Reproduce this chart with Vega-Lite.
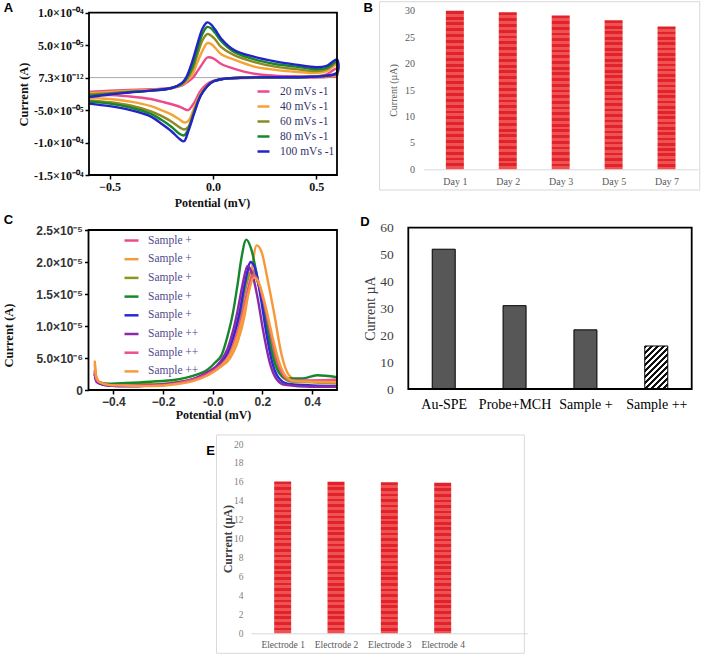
{
"$schema":"https://vega.github.io/schema/vega-lite/v6.json",
"width":708,"height":656,"autosize":{"type":"none"},"padding":0,"background":"white",
"config":{"view":{"stroke":null},"axis":{"grid":false,"labelFlush":false,"labelOverlap":false},"font":"Liberation Serif"},
"datasets":{
"one":[{}],
"cv":[
{"c":"20","k":0,"e":-0.6,"i":-22},{"c":"20","k":1,"e":-0.5,"i":-20},{"c":"20","k":2,"e":-0.4,"i":-19},{"c":"20","k":3,"e":-0.3,"i":-18},{"c":"20","k":4,"e":-0.2,"i":-16},{"c":"20","k":5,"e":-0.15,"i":-12},{"c":"20","k":6,"e":-0.13,"i":-8},{"c":"20","k":7,"e":-0.1,"i":-1},{"c":"20","k":8,"e":-0.075,"i":10},{"c":"20","k":9,"e":-0.05,"i":22},{"c":"20","k":10,"e":-0.028,"i":31},{"c":"20","k":11,"e":-0.01,"i":31},{"c":"20","k":12,"e":0.01,"i":28},{"c":"20","k":13,"e":0.04,"i":21},{"c":"20","k":14,"e":0.1,"i":14},{"c":"20","k":15,"e":0.2,"i":6},{"c":"20","k":16,"e":0.3,"i":3},{"c":"20","k":17,"e":0.4,"i":2},{"c":"20","k":18,"e":0.5,"i":2},{"c":"20","k":19,"e":0.55,"i":5},{"c":"20","k":20,"e":0.6,"i":14},
{"c":"20","k":21,"e":0.6,"i":3},{"c":"20","k":22,"e":0.55,"i":1},{"c":"20","k":23,"e":0.45,"i":0},{"c":"20","k":24,"e":0.3,"i":0},{"c":"20","k":25,"e":0.15,"i":-0.5},{"c":"20","k":26,"e":0.05,"i":-2},{"c":"20","k":27,"e":0,"i":-5},{"c":"20","k":28,"e":-0.03,"i":-10},{"c":"20","k":29,"e":-0.06,"i":-20},{"c":"20","k":30,"e":-0.09,"i":-38},{"c":"20","k":31,"e":-0.12,"i":-50},{"c":"20","k":32,"e":-0.14,"i":-48},{"c":"20","k":33,"e":-0.16,"i":-45},{"c":"20","k":34,"e":-0.2,"i":-41},{"c":"20","k":35,"e":-0.25,"i":-37},{"c":"20","k":36,"e":-0.3,"i":-33},{"c":"20","k":37,"e":-0.4,"i":-29},{"c":"20","k":38,"e":-0.5,"i":-27},{"c":"20","k":39,"e":-0.6,"i":-26},
{"c":"40","k":0,"e":-0.6,"i":-24},{"c":"40","k":1,"e":-0.5,"i":-22},{"c":"40","k":2,"e":-0.4,"i":-20},{"c":"40","k":3,"e":-0.3,"i":-19},{"c":"40","k":4,"e":-0.2,"i":-16},{"c":"40","k":5,"e":-0.15,"i":-11},{"c":"40","k":6,"e":-0.13,"i":-6},{"c":"40","k":7,"e":-0.1,"i":5},{"c":"40","k":8,"e":-0.075,"i":24},{"c":"40","k":9,"e":-0.05,"i":42},{"c":"40","k":10,"e":-0.028,"i":53},{"c":"40","k":11,"e":-0.01,"i":52},{"c":"40","k":12,"e":0.01,"i":46},{"c":"40","k":13,"e":0.04,"i":36},{"c":"40","k":14,"e":0.1,"i":28},{"c":"40","k":15,"e":0.2,"i":17},{"c":"40","k":16,"e":0.3,"i":12},{"c":"40","k":17,"e":0.4,"i":9},{"c":"40","k":18,"e":0.5,"i":7},{"c":"40","k":19,"e":0.55,"i":10},{"c":"40","k":20,"e":0.6,"i":20},
{"c":"40","k":21,"e":0.6,"i":5},{"c":"40","k":22,"e":0.55,"i":2},{"c":"40","k":23,"e":0.45,"i":1},{"c":"40","k":24,"e":0.3,"i":0.5},{"c":"40","k":25,"e":0.15,"i":0},{"c":"40","k":26,"e":0.05,"i":-2},{"c":"40","k":27,"e":0,"i":-6},{"c":"40","k":28,"e":-0.03,"i":-13},{"c":"40","k":29,"e":-0.06,"i":-25},{"c":"40","k":30,"e":-0.09,"i":-46},{"c":"40","k":31,"e":-0.12,"i":-67},{"c":"40","k":32,"e":-0.14,"i":-69},{"c":"40","k":33,"e":-0.16,"i":-65},{"c":"40","k":34,"e":-0.2,"i":-57},{"c":"40","k":35,"e":-0.25,"i":-50},{"c":"40","k":36,"e":-0.3,"i":-44},{"c":"40","k":37,"e":-0.4,"i":-37},{"c":"40","k":38,"e":-0.5,"i":-33},{"c":"40","k":39,"e":-0.6,"i":-31},
{"c":"60","k":0,"e":-0.6,"i":-26},{"c":"60","k":1,"e":-0.5,"i":-24},{"c":"60","k":2,"e":-0.4,"i":-22},{"c":"60","k":3,"e":-0.3,"i":-20},{"c":"60","k":4,"e":-0.2,"i":-16},{"c":"60","k":5,"e":-0.15,"i":-10},{"c":"60","k":6,"e":-0.13,"i":-4},{"c":"60","k":7,"e":-0.1,"i":12},{"c":"60","k":8,"e":-0.075,"i":36},{"c":"60","k":9,"e":-0.05,"i":58},{"c":"60","k":10,"e":-0.028,"i":67},{"c":"60","k":11,"e":-0.01,"i":65},{"c":"60","k":12,"e":0.01,"i":59},{"c":"60","k":13,"e":0.04,"i":47},{"c":"60","k":14,"e":0.1,"i":35},{"c":"60","k":15,"e":0.2,"i":24},{"c":"60","k":16,"e":0.3,"i":17},{"c":"60","k":17,"e":0.4,"i":13},{"c":"60","k":18,"e":0.5,"i":10},{"c":"60","k":19,"e":0.55,"i":13},{"c":"60","k":20,"e":0.6,"i":23},
{"c":"60","k":21,"e":0.6,"i":6},{"c":"60","k":22,"e":0.55,"i":2.5},{"c":"60","k":23,"e":0.45,"i":1},{"c":"60","k":24,"e":0.3,"i":0.5},{"c":"60","k":25,"e":0.15,"i":0},{"c":"60","k":26,"e":0.05,"i":-2},{"c":"60","k":27,"e":0,"i":-6},{"c":"60","k":28,"e":-0.03,"i":-14},{"c":"60","k":29,"e":-0.06,"i":-27},{"c":"60","k":30,"e":-0.09,"i":-50},{"c":"60","k":31,"e":-0.12,"i":-76},{"c":"60","k":32,"e":-0.14,"i":-80},{"c":"60","k":33,"e":-0.16,"i":-77},{"c":"60","k":34,"e":-0.2,"i":-68},{"c":"60","k":35,"e":-0.25,"i":-59},{"c":"60","k":36,"e":-0.3,"i":-52},{"c":"60","k":37,"e":-0.4,"i":-43},{"c":"60","k":38,"e":-0.5,"i":-38},{"c":"60","k":39,"e":-0.6,"i":-35},
{"c":"80","k":0,"e":-0.6,"i":-28},{"c":"80","k":1,"e":-0.5,"i":-25},{"c":"80","k":2,"e":-0.4,"i":-22},{"c":"80","k":3,"e":-0.3,"i":-20},{"c":"80","k":4,"e":-0.2,"i":-16},{"c":"80","k":5,"e":-0.15,"i":-9},{"c":"80","k":6,"e":-0.13,"i":-2},{"c":"80","k":7,"e":-0.1,"i":17},{"c":"80","k":8,"e":-0.075,"i":44},{"c":"80","k":9,"e":-0.05,"i":68},{"c":"80","k":10,"e":-0.028,"i":78},{"c":"80","k":11,"e":-0.01,"i":76},{"c":"80","k":12,"e":0.01,"i":69},{"c":"80","k":13,"e":0.04,"i":56},{"c":"80","k":14,"e":0.1,"i":40},{"c":"80","k":15,"e":0.2,"i":28},{"c":"80","k":16,"e":0.3,"i":21},{"c":"80","k":17,"e":0.4,"i":17},{"c":"80","k":18,"e":0.5,"i":13},{"c":"80","k":19,"e":0.55,"i":15},{"c":"80","k":20,"e":0.6,"i":25},
{"c":"80","k":21,"e":0.6,"i":7},{"c":"80","k":22,"e":0.55,"i":3},{"c":"80","k":23,"e":0.45,"i":1},{"c":"80","k":24,"e":0.3,"i":0.5},{"c":"80","k":25,"e":0.15,"i":0},{"c":"80","k":26,"e":0.05,"i":-2},{"c":"80","k":27,"e":0,"i":-6},{"c":"80","k":28,"e":-0.03,"i":-14},{"c":"80","k":29,"e":-0.06,"i":-28},{"c":"80","k":30,"e":-0.09,"i":-52},{"c":"80","k":31,"e":-0.12,"i":-80},{"c":"80","k":32,"e":-0.14,"i":-89},{"c":"80","k":33,"e":-0.16,"i":-87},{"c":"80","k":34,"e":-0.2,"i":-76},{"c":"80","k":35,"e":-0.25,"i":-65},{"c":"80","k":36,"e":-0.3,"i":-56},{"c":"80","k":37,"e":-0.4,"i":-46},{"c":"80","k":38,"e":-0.5,"i":-40},{"c":"80","k":39,"e":-0.6,"i":-37},
{"c":"100","k":0,"e":-0.6,"i":-30},{"c":"100","k":1,"e":-0.5,"i":-26},{"c":"100","k":2,"e":-0.4,"i":-23},{"c":"100","k":3,"e":-0.3,"i":-20},{"c":"100","k":4,"e":-0.2,"i":-16},{"c":"100","k":5,"e":-0.15,"i":-8},{"c":"100","k":6,"e":-0.13,"i":0},{"c":"100","k":7,"e":-0.1,"i":25},{"c":"100","k":8,"e":-0.075,"i":52},{"c":"100","k":9,"e":-0.05,"i":76},{"c":"100","k":10,"e":-0.028,"i":85},{"c":"100","k":11,"e":-0.01,"i":82},{"c":"100","k":12,"e":0.01,"i":74},{"c":"100","k":13,"e":0.04,"i":60},{"c":"100","k":14,"e":0.1,"i":43},{"c":"100","k":15,"e":0.2,"i":32},{"c":"100","k":16,"e":0.3,"i":25},{"c":"100","k":17,"e":0.4,"i":20},{"c":"100","k":18,"e":0.5,"i":16},{"c":"100","k":19,"e":0.55,"i":18},{"c":"100","k":20,"e":0.6,"i":28},
{"c":"100","k":21,"e":0.6,"i":8},{"c":"100","k":22,"e":0.55,"i":3},{"c":"100","k":23,"e":0.45,"i":1},{"c":"100","k":24,"e":0.3,"i":0.5},{"c":"100","k":25,"e":0.15,"i":0},{"c":"100","k":26,"e":0.05,"i":-2},{"c":"100","k":27,"e":0,"i":-6},{"c":"100","k":28,"e":-0.03,"i":-14},{"c":"100","k":29,"e":-0.06,"i":-28},{"c":"100","k":30,"e":-0.09,"i":-54},{"c":"100","k":31,"e":-0.12,"i":-83},{"c":"100","k":32,"e":-0.14,"i":-98},{"c":"100","k":33,"e":-0.16,"i":-95},{"c":"100","k":34,"e":-0.2,"i":-83},{"c":"100","k":35,"e":-0.25,"i":-71},{"c":"100","k":36,"e":-0.3,"i":-60},{"c":"100","k":37,"e":-0.4,"i":-50},{"c":"100","k":38,"e":-0.5,"i":-44},{"c":"100","k":39,"e":-0.6,"i":-40}
],
"dpv":[
{"s":"1","e":-0.475,"i":3.0},{"s":"1","e":-0.468,"i":1.6},{"s":"1","e":-0.455,"i":1.1},{"s":"1","e":-0.42,"i":0.8},{"s":"1","e":-0.35,"i":0.6},{"s":"1","e":-0.25,"i":0.7},{"s":"1","e":-0.15,"i":1.1},{"s":"1","e":-0.08,"i":1.7},{"s":"1","e":-0.02,"i":2.7},{"s":"1","e":0.03,"i":4.2},{"s":"1","e":0.06,"i":6.0},{"s":"1","e":0.085,"i":8.5},{"s":"1","e":0.107,"i":12.0},{"s":"1","e":0.127,"i":16.0},{"s":"1","e":0.152,"i":19.0},{"s":"1","e":0.172,"i":18.0},{"s":"1","e":0.197,"i":14.5},{"s":"1","e":0.222,"i":9.5},{"s":"1","e":0.252,"i":4.5},{"s":"1","e":0.282,"i":2.0},{"s":"1","e":0.32,"i":1.4},{"s":"1","e":0.4,"i":1.4},{"s":"1","e":0.5,"i":1.6},
{"s":"2","e":-0.475,"i":4.6},{"s":"2","e":-0.468,"i":2.0},{"s":"2","e":-0.455,"i":1.2},{"s":"2","e":-0.42,"i":0.9},{"s":"2","e":-0.35,"i":0.8},{"s":"2","e":-0.25,"i":0.8},{"s":"2","e":-0.15,"i":1.1},{"s":"2","e":-0.08,"i":1.6},{"s":"2","e":-0.02,"i":2.4},{"s":"2","e":0.03,"i":3.6},{"s":"2","e":0.07,"i":5.0},{"s":"2","e":0.1,"i":7.5},{"s":"2","e":0.13,"i":12.0},{"s":"2","e":0.152,"i":17.5},{"s":"2","e":0.177,"i":22.6},{"s":"2","e":0.197,"i":21.5},{"s":"2","e":0.222,"i":17.0},{"s":"2","e":0.247,"i":12.0},{"s":"2","e":0.277,"i":5.5},{"s":"2","e":0.305,"i":2.4},{"s":"2","e":0.34,"i":1.5},{"s":"2","e":0.4,"i":1.3},{"s":"2","e":0.5,"i":1.2},
{"s":"3","e":-0.475,"i":2.8},{"s":"3","e":-0.468,"i":1.5},{"s":"3","e":-0.455,"i":1.1},{"s":"3","e":-0.42,"i":0.9},{"s":"3","e":-0.35,"i":1.0},{"s":"3","e":-0.25,"i":0.9},{"s":"3","e":-0.15,"i":1.2},{"s":"3","e":-0.08,"i":1.7},{"s":"3","e":-0.02,"i":2.6},{"s":"3","e":0.03,"i":4.0},{"s":"3","e":0.06,"i":5.6},{"s":"3","e":0.09,"i":8.0},{"s":"3","e":0.11,"i":11.5},{"s":"3","e":0.13,"i":15.5},{"s":"3","e":0.155,"i":18.5},{"s":"3","e":0.175,"i":17.5},{"s":"3","e":0.2,"i":14.0},{"s":"3","e":0.225,"i":9.0},{"s":"3","e":0.255,"i":4.2},{"s":"3","e":0.285,"i":1.9},{"s":"3","e":0.32,"i":1.3},{"s":"3","e":0.4,"i":1.2},{"s":"3","e":0.5,"i":1.0},
{"s":"4","e":-0.475,"i":2.5},{"s":"4","e":-0.468,"i":1.5},{"s":"4","e":-0.455,"i":1.2},{"s":"4","e":-0.42,"i":1.0},{"s":"4","e":-0.35,"i":1.1},{"s":"4","e":-0.25,"i":1.3},{"s":"4","e":-0.15,"i":1.6},{"s":"4","e":-0.08,"i":2.2},{"s":"4","e":-0.02,"i":3.2},{"s":"4","e":0.01,"i":4.3},{"s":"4","e":0.036,"i":5.5},{"s":"4","e":0.06,"i":8.5},{"s":"4","e":0.08,"i":11.8},{"s":"4","e":0.1,"i":16.5},{"s":"4","e":0.115,"i":20.5},{"s":"4","e":0.135,"i":23.5},{"s":"4","e":0.155,"i":22.0},{"s":"4","e":0.18,"i":17.5},{"s":"4","e":0.21,"i":11.8},{"s":"4","e":0.24,"i":5.5},{"s":"4","e":0.27,"i":2.5},{"s":"4","e":0.3,"i":1.8},{"s":"4","e":0.36,"i":1.8},{"s":"4","e":0.42,"i":2.3},{"s":"4","e":0.5,"i":2.0},
{"s":"5","e":-0.475,"i":2.6},{"s":"5","e":-0.468,"i":1.4},{"s":"5","e":-0.455,"i":1.0},{"s":"5","e":-0.42,"i":0.7},{"s":"5","e":-0.35,"i":0.6},{"s":"5","e":-0.25,"i":0.7},{"s":"5","e":-0.15,"i":1.0},{"s":"5","e":-0.08,"i":1.6},{"s":"5","e":-0.02,"i":2.6},{"s":"5","e":0.03,"i":4.0},{"s":"5","e":0.06,"i":5.8},{"s":"5","e":0.085,"i":8.5},{"s":"5","e":0.11,"i":12.4},{"s":"5","e":0.13,"i":16.8},{"s":"5","e":0.153,"i":20.0},{"s":"5","e":0.172,"i":18.8},{"s":"5","e":0.195,"i":14.0},{"s":"5","e":0.215,"i":9.0},{"s":"5","e":0.24,"i":4.2},{"s":"5","e":0.265,"i":1.9},{"s":"5","e":0.3,"i":1.0},{"s":"5","e":0.4,"i":0.7},{"s":"5","e":0.5,"i":0.6},
{"s":"6","e":-0.475,"i":2.4},{"s":"6","e":-0.468,"i":1.3},{"s":"6","e":-0.455,"i":1.0},{"s":"6","e":-0.42,"i":0.7},{"s":"6","e":-0.35,"i":0.6},{"s":"6","e":-0.25,"i":0.7},{"s":"6","e":-0.15,"i":1.1},{"s":"6","e":-0.08,"i":1.7},{"s":"6","e":-0.02,"i":2.8},{"s":"6","e":0.03,"i":4.4},{"s":"6","e":0.06,"i":6.5},{"s":"6","e":0.08,"i":9.0},{"s":"6","e":0.1,"i":12.4},{"s":"6","e":0.12,"i":16.5},{"s":"6","e":0.14,"i":19.4},{"s":"6","e":0.16,"i":18.0},{"s":"6","e":0.18,"i":14.5},{"s":"6","e":0.204,"i":9.0},{"s":"6","e":0.23,"i":4.2},{"s":"6","e":0.255,"i":1.8},{"s":"6","e":0.29,"i":0.8},{"s":"6","e":0.4,"i":0.5},{"s":"6","e":0.5,"i":0.5},
{"s":"7","e":-0.475,"i":3.2},{"s":"7","e":-0.468,"i":1.7},{"s":"7","e":-0.455,"i":1.2},{"s":"7","e":-0.42,"i":0.8},{"s":"7","e":-0.35,"i":0.7},{"s":"7","e":-0.25,"i":0.7},{"s":"7","e":-0.15,"i":1.0},{"s":"7","e":-0.08,"i":1.6},{"s":"7","e":-0.02,"i":2.5},{"s":"7","e":0.03,"i":3.8},{"s":"7","e":0.07,"i":5.8},{"s":"7","e":0.095,"i":8.5},{"s":"7","e":0.12,"i":12.0},{"s":"7","e":0.14,"i":15.5},{"s":"7","e":0.162,"i":18.0},{"s":"7","e":0.182,"i":17.0},{"s":"7","e":0.207,"i":13.5},{"s":"7","e":0.232,"i":9.0},{"s":"7","e":0.262,"i":4.3},{"s":"7","e":0.29,"i":2.0},{"s":"7","e":0.33,"i":1.5},{"s":"7","e":0.4,"i":1.5},{"s":"7","e":0.5,"i":1.6},
{"s":"8","e":-0.475,"i":4.0},{"s":"8","e":-0.468,"i":1.9},{"s":"8","e":-0.455,"i":1.2},{"s":"8","e":-0.42,"i":0.8},{"s":"8","e":-0.35,"i":0.7},{"s":"8","e":-0.25,"i":0.6},{"s":"8","e":-0.15,"i":0.9},{"s":"8","e":-0.08,"i":1.4},{"s":"8","e":-0.02,"i":2.3},{"s":"8","e":0.03,"i":3.6},{"s":"8","e":0.07,"i":5.5},{"s":"8","e":0.1,"i":8.5},{"s":"8","e":0.125,"i":12.0},{"s":"8","e":0.145,"i":15.3},{"s":"8","e":0.165,"i":17.6},{"s":"8","e":0.185,"i":16.8},{"s":"8","e":0.21,"i":13.5},{"s":"8","e":0.235,"i":9.2},{"s":"8","e":0.265,"i":4.6},{"s":"8","e":0.295,"i":2.1},{"s":"8","e":0.33,"i":1.4},{"s":"8","e":0.4,"i":1.3},{"s":"8","e":0.5,"i":1.2}
],
"stab":[{"i":1,"day":"Day 1","v":30.0},{"i":2,"day":"Day 2","v":29.7},{"i":3,"day":"Day 3","v":29.1},{"i":4,"day":"Day 5","v":28.2},{"i":5,"day":"Day 7","v":27.0}],
"steps":[{"i":1,"step":"Au-SPE","v":52.0},{"i":2,"step":"Probe+MCH","v":31.0},{"i":3,"step":"Sample +","v":22.0},{"i":4,"step":"Sample ++","v":16.0}],
"rep":[{"i":1,"el":"Electrode 1","v":16.05},{"i":2,"el":"Electrode 2","v":16.0},{"i":3,"el":"Electrode 3","v":15.95},{"i":4,"el":"Electrode 4","v":15.9}]
},
"layer":[
{"layer":[
 {"data":{"name":"one"},"mark":{"type":"rule","color":"#a8a8a8","strokeWidth":1},
  "encoding":{"x":{"datum":-0.6,"type":"quantitative","scale":{"domain":[-0.6,0.6],"range":[89,337],"nice":false,"zero":false}},"x2":{"datum":0.6},
   "y":{"datum":0,"type":"quantitative","scale":{"domain":[-150,100],"range":[175,12.7],"nice":false,"zero":false}}}},
 {"data":{"name":"cv"},"mark":{"type":"line","strokeWidth":2.4,"interpolate":"catmull-rom"},
  "encoding":{
   "x":{"field":"e","type":"quantitative","scale":{"domain":[-0.6,0.6],"range":[89,337],"nice":false,"zero":false},
    "axis":{"orient":"bottom","offset":-481,"values":[-0.5,0,0.5],"format":".1f","labelFont":"Liberation Serif","labelFontWeight":"bold","labelFontSize":12,"labelColor":"#111111","labelPadding":2,"tickSize":4,"tickWidth":1.5,"tickColor":"#000000","domain":false,"title":"Potential (mV)","titleFont":"Liberation Serif","titleFontWeight":"bold","titleFontSize":12,"titleColor":"#111111","titleX":212,"titleY":27,"titleBaseline":"middle"}},
   "y":{"field":"i","type":"quantitative","scale":{"domain":[-150,100],"range":[175,12.7],"nice":false,"zero":false},
    "axis":{"orient":"left","offset":-89,"values":[-150,-100,-50,0,50,100],"labelExpr":"datum.value==100?'1.0×10⁻⁰⁴':datum.value==50?'5.0×10⁻⁰⁵':datum.value==0?'7.3×10⁻¹²':datum.value==-50?'-5.0×10⁻⁰⁵':datum.value==-100?'-1.0×10⁻⁰⁴':'-1.5×10⁻⁰⁴'","labelFont":"Liberation Serif","labelFontWeight":"bold","labelFontSize":12,"labelColor":"#111111","labelPadding":2,"tickSize":4,"tickWidth":1.5,"tickColor":"#000000","domain":false,"title":"Current (A)","titleFont":"Liberation Serif","titleFontWeight":"bold","titleFontSize":12.5,"titleColor":"#111111","titleX":-66,"titleY":94,"titleBaseline":"middle"}},
   "color":{"field":"c","type":"nominal","scale":{"domain":["20","40","60","80","100"],"range":["#ec4a8c","#f5a236","#8d8a1f","#17872c","#2323c8"]},
    "legend":{"title":null,"orient":"none","legendX":256,"legendY":84,"padding":0,"symbolType":"stroke","symbolStrokeWidth":2.5,"symbolSize":144,"labelFont":"Liberation Serif","labelFontSize":11.5,"labelColor":"#33336b","labelOffset":9,"rowPadding":2,"labelExpr":"datum.label + ' mVs -1'"}},
   "order":{"field":"k","type":"quantitative"}}},
 {"data":{"name":"one"},"mark":{"type":"rect","fillOpacity":0,"stroke":"#000000","strokeWidth":1.8},
  "encoding":{"x":{"datum":-0.6,"type":"quantitative","scale":{"domain":[-0.6,0.6],"range":[89,337],"nice":false,"zero":false}},"x2":{"datum":0.6},
   "y":{"datum":-150,"type":"quantitative","scale":{"domain":[-150,100],"range":[175,12.7],"nice":false,"zero":false}},"y2":{"datum":100}}},
 {"data":{"name":"one"},"mark":{"type":"text","text":"A","font":"Liberation Sans","fontWeight":"bold","fontSize":13,"align":"center","baseline":"middle","color":"#000000"},
  "encoding":{"x":{"datum":-0.9895,"type":"quantitative","scale":{"domain":[-0.6,0.6],"range":[89,337],"nice":false,"zero":false}},
   "y":{"datum":107.2,"type":"quantitative","scale":{"domain":[-150,100],"range":[175,12.7],"nice":false,"zero":false}}}}
]},
{"layer":[
 {"data":{"name":"one"},"mark":{"type":"rect","fillOpacity":0,"stroke":"#d9d9d9","strokeWidth":1},
  "encoding":{"x":{"datum":-0.423,"type":"quantitative","scale":{"domain":[0.5,5.5],"range":[423.4,698],"nice":false,"zero":false}},"x2":{"datum":5.627},
   "y":{"datum":-3.915,"type":"quantitative","scale":{"domain":[0,30],"range":[169.3,10.7],"nice":false,"zero":false}},"y2":{"datum":31.7}}},
 {"data":{"name":"stab"},"mark":{"type":"bar","width":18,
   "fill":{"gradient":"linear","x1":0,"y1":0,"x2":0,"y2":1,"stops":[
{"offset":0,"color":"#e1222a"},{"offset":0.0185,"color":"#e1222a"},{"offset":0.0185,"color":"#ee5252"},{"offset":0.037,"color":"#ee5252"},
{"offset":0.037,"color":"#e1222a"},{"offset":0.0556,"color":"#e1222a"},{"offset":0.0556,"color":"#ee5252"},{"offset":0.0741,"color":"#ee5252"},
{"offset":0.0741,"color":"#e1222a"},{"offset":0.0926,"color":"#e1222a"},{"offset":0.0926,"color":"#ee5252"},{"offset":0.1111,"color":"#ee5252"},
{"offset":0.1111,"color":"#e1222a"},{"offset":0.1296,"color":"#e1222a"},{"offset":0.1296,"color":"#ee5252"},{"offset":0.1481,"color":"#ee5252"},
{"offset":0.1481,"color":"#e1222a"},{"offset":0.1667,"color":"#e1222a"},{"offset":0.1667,"color":"#ee5252"},{"offset":0.1852,"color":"#ee5252"},
{"offset":0.1852,"color":"#e1222a"},{"offset":0.2037,"color":"#e1222a"},{"offset":0.2037,"color":"#ee5252"},{"offset":0.2222,"color":"#ee5252"},
{"offset":0.2222,"color":"#e1222a"},{"offset":0.2407,"color":"#e1222a"},{"offset":0.2407,"color":"#ee5252"},{"offset":0.2593,"color":"#ee5252"},
{"offset":0.2593,"color":"#e1222a"},{"offset":0.2778,"color":"#e1222a"},{"offset":0.2778,"color":"#ee5252"},{"offset":0.2963,"color":"#ee5252"},
{"offset":0.2963,"color":"#e1222a"},{"offset":0.3148,"color":"#e1222a"},{"offset":0.3148,"color":"#ee5252"},{"offset":0.3333,"color":"#ee5252"},
{"offset":0.3333,"color":"#e1222a"},{"offset":0.3519,"color":"#e1222a"},{"offset":0.3519,"color":"#ee5252"},{"offset":0.3704,"color":"#ee5252"},
{"offset":0.3704,"color":"#e1222a"},{"offset":0.3889,"color":"#e1222a"},{"offset":0.3889,"color":"#ee5252"},{"offset":0.4074,"color":"#ee5252"},
{"offset":0.4074,"color":"#e1222a"},{"offset":0.4259,"color":"#e1222a"},{"offset":0.4259,"color":"#ee5252"},{"offset":0.4444,"color":"#ee5252"},
{"offset":0.4444,"color":"#e1222a"},{"offset":0.463,"color":"#e1222a"},{"offset":0.463,"color":"#ee5252"},{"offset":0.4815,"color":"#ee5252"},
{"offset":0.4815,"color":"#e1222a"},{"offset":0.5,"color":"#e1222a"},{"offset":0.5,"color":"#ee5252"},{"offset":0.5185,"color":"#ee5252"},
{"offset":0.5185,"color":"#e1222a"},{"offset":0.537,"color":"#e1222a"},{"offset":0.537,"color":"#ee5252"},{"offset":0.5556,"color":"#ee5252"},
{"offset":0.5556,"color":"#e1222a"},{"offset":0.5741,"color":"#e1222a"},{"offset":0.5741,"color":"#ee5252"},{"offset":0.5926,"color":"#ee5252"},
{"offset":0.5926,"color":"#e1222a"},{"offset":0.6111,"color":"#e1222a"},{"offset":0.6111,"color":"#ee5252"},{"offset":0.6296,"color":"#ee5252"},
{"offset":0.6296,"color":"#e1222a"},{"offset":0.6481,"color":"#e1222a"},{"offset":0.6481,"color":"#ee5252"},{"offset":0.6667,"color":"#ee5252"},
{"offset":0.6667,"color":"#e1222a"},{"offset":0.6852,"color":"#e1222a"},{"offset":0.6852,"color":"#ee5252"},{"offset":0.7037,"color":"#ee5252"},
{"offset":0.7037,"color":"#e1222a"},{"offset":0.7222,"color":"#e1222a"},{"offset":0.7222,"color":"#ee5252"},{"offset":0.7407,"color":"#ee5252"},
{"offset":0.7407,"color":"#e1222a"},{"offset":0.7593,"color":"#e1222a"},{"offset":0.7593,"color":"#ee5252"},{"offset":0.7778,"color":"#ee5252"},
{"offset":0.7778,"color":"#e1222a"},{"offset":0.7963,"color":"#e1222a"},{"offset":0.7963,"color":"#ee5252"},{"offset":0.8148,"color":"#ee5252"},
{"offset":0.8148,"color":"#e1222a"},{"offset":0.8333,"color":"#e1222a"},{"offset":0.8333,"color":"#ee5252"},{"offset":0.8519,"color":"#ee5252"},
{"offset":0.8519,"color":"#e1222a"},{"offset":0.8704,"color":"#e1222a"},{"offset":0.8704,"color":"#ee5252"},{"offset":0.8889,"color":"#ee5252"},
{"offset":0.8889,"color":"#e1222a"},{"offset":0.9074,"color":"#e1222a"},{"offset":0.9074,"color":"#ee5252"},{"offset":0.9259,"color":"#ee5252"},
{"offset":0.9259,"color":"#e1222a"},{"offset":0.9444,"color":"#e1222a"},{"offset":0.9444,"color":"#ee5252"},{"offset":0.963,"color":"#ee5252"},
{"offset":0.963,"color":"#e1222a"},{"offset":0.9815,"color":"#e1222a"},{"offset":0.9815,"color":"#ee5252"},{"offset":1,"color":"#ee5252"}]}},
  "encoding":{
   "x":{"field":"i","type":"quantitative","scale":{"domain":[0.5,5.5],"range":[423.4,698],"nice":false,"zero":false},
    "axis":{"orient":"bottom","offset":-486.7,"values":[1,2,3,4,5],"labelExpr":"['Day 1','Day 2','Day 3','Day 5','Day 7'][datum.value-1]","labelFont":"Liberation Serif","labelFontSize":10,"labelColor":"#595959","labelPadding":7,"ticks":false,"domain":true,"domainColor":"#d9d9d9","domainWidth":1,"title":null}},
   "y":{"field":"v","type":"quantitative","scale":{"domain":[0,30],"range":[169.3,10.7],"nice":false,"zero":false},
    "axis":{"orient":"left","offset":-423.4,"values":[0,5,10,15,20,25,30],"labelFont":"Liberation Serif","labelFontSize":10,"labelColor":"#595959","labelPadding":9,"ticks":false,"domain":false,"title":"Current (µA)","titleFont":"Liberation Serif","titleFontWeight":"normal","titleFontSize":10,"titleColor":"#595959","titleX":-30.4,"titleY":90,"titleBaseline":"middle"}},
   "y2":{"datum":0}}},
 {"data":{"name":"one"},"mark":{"type":"text","text":"B","font":"Liberation Sans","fontWeight":"bold","fontSize":13,"align":"center","baseline":"middle","color":"#000000"},
  "encoding":{"x":{"datum":-0.636,"type":"quantitative","scale":{"domain":[0.5,5.5],"range":[423.4,698],"nice":false,"zero":false}},
   "y":{"datum":30.51,"type":"quantitative","scale":{"domain":[0,30],"range":[169.3,10.7],"nice":false,"zero":false}}}}
]},
{"layer":[
 {"data":{"name":"dpv"},"mark":{"type":"line","strokeWidth":2.4,"interpolate":"monotone"},
  "encoding":{
   "x":{"field":"e","type":"quantitative","scale":{"domain":[-0.5,0.5],"range":[88.5,337],"nice":false,"zero":false},
    "axis":{"orient":"bottom","offset":-266,"values":[-0.4,-0.2,0,0.2,0.4],"labelExpr":"datum.value==0?'-0.0':format(datum.value,'.1f')","labelFont":"Liberation Sans","labelFontWeight":"bold","labelFontSize":12,"labelColor":"#333333","labelPadding":2,"tickSize":4,"tickWidth":1.5,"tickColor":"#000000","domain":false,"title":"Potential (mV)","titleFont":"Liberation Serif","titleFontWeight":"bold","titleFontSize":12,"titleColor":"#111111","titleX":213,"titleY":24,"titleBaseline":"middle"}},
   "y":{"field":"i","type":"quantitative","scale":{"domain":[0,25],"range":[390,230],"nice":false,"zero":false},
    "axis":{"orient":"left","offset":-88.5,"values":[0,5,10,15,20,25],"labelExpr":"datum.value==0?'0':datum.value==5?'5.0×10⁻⁶':datum.value==10?'1.0×10⁻⁵':datum.value==15?'1.5×10⁻⁵':datum.value==20?'2.0×10⁻⁵':'2.5×10⁻⁵'","labelFont":"Liberation Sans","labelFontWeight":"bold","labelFontSize":12,"labelColor":"#333333","labelPadding":2,"tickSize":4,"tickWidth":1.5,"tickColor":"#000000","domain":false,"title":"Current (A)","titleFont":"Liberation Serif","titleFontWeight":"bold","titleFontSize":12.5,"titleColor":"#111111","titleX":-80,"titleY":335,"titleBaseline":"middle"}},
   "color":{"field":"s","type":"nominal","scale":{"domain":["1","2","3","4","5","6","7","8"],"range":["#ec4a8c","#f7983a","#8f961f","#17872c","#2b2bd6","#8a2aa8","#ee4f91","#f79a3e"]},
    "legend":{"title":null,"orient":"none","legendX":123,"legendY":232,"padding":0,"symbolType":"stroke","symbolStrokeWidth":2.5,"symbolSize":196,"labelFont":"Liberation Serif","labelFontSize":11.5,"labelColor":"#514a8c","labelOffset":8,"rowPadding":4.7,"labelExpr":"toNumber(datum.label)>5?'Sample ++':'Sample +'"}}}},
 {"data":{"name":"one"},"mark":{"type":"rect","fillOpacity":0,"stroke":"#000000","strokeWidth":1.8},
  "encoding":{"x":{"datum":-0.5,"type":"quantitative","scale":{"domain":[-0.5,0.5],"range":[88.5,337],"nice":false,"zero":false}},"x2":{"datum":0.5},
   "y":{"datum":0,"type":"quantitative","scale":{"domain":[0,25],"range":[390,230],"nice":false,"zero":false}},"y2":{"datum":25}}},
 {"data":{"name":"one"},"mark":{"type":"text","text":"C","font":"Liberation Sans","fontWeight":"bold","fontSize":13,"align":"center","baseline":"middle","color":"#000000"},
  "encoding":{"x":{"datum":-0.822,"type":"quantitative","scale":{"domain":[-0.5,0.5],"range":[88.5,337],"nice":false,"zero":false}},
   "y":{"datum":26.56,"type":"quantitative","scale":{"domain":[0,25],"range":[390,230],"nice":false,"zero":false}}}}
]},
{"layer":[
 {"data":{"name":"steps"},"transform":[{"filter":"datum.i<4"}],"mark":{"type":"bar","width":23,"color":"#575757","stroke":"#000000","strokeWidth":1},
  "encoding":{
   "x":{"field":"i","type":"quantitative","scale":{"domain":[0.5,4.5],"range":[403.3,696.7],"nice":false,"zero":false},
    "axis":{"orient":"bottom","offset":-267,"values":[1,2,3,4],"labelExpr":"['Au-SPE','Probe+MCH','Sample +','Sample ++'][datum.value-1]","labelFont":"Liberation Serif","labelFontSize":14,"labelColor":"#000000","labelPadding":8,"ticks":false,"domain":false,"title":null}},
   "y":{"field":"v","type":"quantitative","scale":{"domain":[0,60],"range":[389,227.7],"nice":false,"zero":false},
    "axis":{"orient":"left","offset":-403.3,"values":[0,10,20,30,40,50,60],"labelFont":"Liberation Serif","labelFontSize":13.5,"labelColor":"#404040","labelPadding":10,"ticks":false,"domain":false,"title":"Current µA","titleFont":"Liberation Serif","titleFontWeight":"normal","titleFontSize":14,"titleColor":"#404040","titleX":-33.3,"titleY":308,"titleBaseline":"middle"}},
   "y2":{"datum":0}}},
 {"data":{"name":"steps"},"transform":[{"filter":"datum.i==4"}],"mark":{"type":"bar","width":23,"stroke":"#000000","strokeWidth":1,
   "fill":{"gradient":"linear","x1":0,"y1":0,"x2":0.639,"y2":1.194,"stops":[
    {"offset":0,"color":"#111111"},{"offset":0.04,"color":"#111111"},{"offset":0.04,"color":"#ffffff"},{"offset":0.0909,"color":"#ffffff"},
    {"offset":0.0909,"color":"#111111"},{"offset":0.1309,"color":"#111111"},{"offset":0.1309,"color":"#ffffff"},{"offset":0.1818,"color":"#ffffff"},
    {"offset":0.1818,"color":"#111111"},{"offset":0.2218,"color":"#111111"},{"offset":0.2218,"color":"#ffffff"},{"offset":0.2727,"color":"#ffffff"},
    {"offset":0.2727,"color":"#111111"},{"offset":0.3127,"color":"#111111"},{"offset":0.3127,"color":"#ffffff"},{"offset":0.3636,"color":"#ffffff"},
    {"offset":0.3636,"color":"#111111"},{"offset":0.4036,"color":"#111111"},{"offset":0.4036,"color":"#ffffff"},{"offset":0.4545,"color":"#ffffff"},
    {"offset":0.4545,"color":"#111111"},{"offset":0.4945,"color":"#111111"},{"offset":0.4945,"color":"#ffffff"},{"offset":0.5455,"color":"#ffffff"},
    {"offset":0.5455,"color":"#111111"},{"offset":0.5855,"color":"#111111"},{"offset":0.5855,"color":"#ffffff"},{"offset":0.6364,"color":"#ffffff"},
    {"offset":0.6364,"color":"#111111"},{"offset":0.6764,"color":"#111111"},{"offset":0.6764,"color":"#ffffff"},{"offset":0.7273,"color":"#ffffff"},
    {"offset":0.7273,"color":"#111111"},{"offset":0.7673,"color":"#111111"},{"offset":0.7673,"color":"#ffffff"},{"offset":0.8182,"color":"#ffffff"},
    {"offset":0.8182,"color":"#111111"},{"offset":0.8582,"color":"#111111"},{"offset":0.8582,"color":"#ffffff"},{"offset":0.9091,"color":"#ffffff"},
    {"offset":0.9091,"color":"#111111"},{"offset":0.9491,"color":"#111111"},{"offset":0.9491,"color":"#ffffff"},{"offset":1,"color":"#ffffff"}]}},
  "encoding":{
   "x":{"field":"i","type":"quantitative","scale":{"domain":[0.5,4.5],"range":[403.3,696.7],"nice":false,"zero":false}},
   "y":{"field":"v","type":"quantitative","scale":{"domain":[0,60],"range":[389,227.7],"nice":false,"zero":false}},
   "y2":{"datum":0}}},
 {"data":{"name":"one"},"mark":{"type":"rect","fillOpacity":0,"stroke":"#000000","strokeWidth":1.8},
  "encoding":{"x":{"datum":0.5,"type":"quantitative","scale":{"domain":[0.5,4.5],"range":[403.3,696.7],"nice":false,"zero":false}},"x2":{"datum":4.5},
   "y":{"datum":0,"type":"quantitative","scale":{"domain":[0,60],"range":[389,227.7],"nice":false,"zero":false}},"y2":{"datum":60}}},
 {"data":{"name":"one"},"mark":{"type":"text","text":"D","font":"Liberation Sans","fontWeight":"bold","fontSize":13,"align":"center","baseline":"middle","color":"#000000"},
  "encoding":{"x":{"datum":-0.1135,"type":"quantitative","scale":{"domain":[0.5,4.5],"range":[403.3,696.7],"nice":false,"zero":false}},
   "y":{"datum":62.24,"type":"quantitative","scale":{"domain":[0,60],"range":[389,227.7],"nice":false,"zero":false}}}}
]},
{"layer":[
 {"data":{"name":"one"},"mark":{"type":"rect","fillOpacity":0,"stroke":"#d9d9d9","strokeWidth":1},
  "encoding":{"x":{"datum":-0.241,"type":"quantitative","scale":{"domain":[0.5,5.5],"range":[251,527.7],"nice":false,"zero":false}},"x2":{"datum":5.531},
   "y":{"datum":-2.11,"type":"quantitative","scale":{"domain":[0,20],"range":[633.3,444],"nice":false,"zero":false}},"y2":{"datum":20.95}}},
 {"data":{"name":"rep"},"mark":{"type":"bar","width":17,
   "fill":{"gradient":"linear","x1":0,"y1":0,"x2":0,"y2":1,"stops":[
{"offset":0,"color":"#e1222a"},{"offset":0.0185,"color":"#e1222a"},{"offset":0.0185,"color":"#ee5252"},{"offset":0.037,"color":"#ee5252"},
{"offset":0.037,"color":"#e1222a"},{"offset":0.0556,"color":"#e1222a"},{"offset":0.0556,"color":"#ee5252"},{"offset":0.0741,"color":"#ee5252"},
{"offset":0.0741,"color":"#e1222a"},{"offset":0.0926,"color":"#e1222a"},{"offset":0.0926,"color":"#ee5252"},{"offset":0.1111,"color":"#ee5252"},
{"offset":0.1111,"color":"#e1222a"},{"offset":0.1296,"color":"#e1222a"},{"offset":0.1296,"color":"#ee5252"},{"offset":0.1481,"color":"#ee5252"},
{"offset":0.1481,"color":"#e1222a"},{"offset":0.1667,"color":"#e1222a"},{"offset":0.1667,"color":"#ee5252"},{"offset":0.1852,"color":"#ee5252"},
{"offset":0.1852,"color":"#e1222a"},{"offset":0.2037,"color":"#e1222a"},{"offset":0.2037,"color":"#ee5252"},{"offset":0.2222,"color":"#ee5252"},
{"offset":0.2222,"color":"#e1222a"},{"offset":0.2407,"color":"#e1222a"},{"offset":0.2407,"color":"#ee5252"},{"offset":0.2593,"color":"#ee5252"},
{"offset":0.2593,"color":"#e1222a"},{"offset":0.2778,"color":"#e1222a"},{"offset":0.2778,"color":"#ee5252"},{"offset":0.2963,"color":"#ee5252"},
{"offset":0.2963,"color":"#e1222a"},{"offset":0.3148,"color":"#e1222a"},{"offset":0.3148,"color":"#ee5252"},{"offset":0.3333,"color":"#ee5252"},
{"offset":0.3333,"color":"#e1222a"},{"offset":0.3519,"color":"#e1222a"},{"offset":0.3519,"color":"#ee5252"},{"offset":0.3704,"color":"#ee5252"},
{"offset":0.3704,"color":"#e1222a"},{"offset":0.3889,"color":"#e1222a"},{"offset":0.3889,"color":"#ee5252"},{"offset":0.4074,"color":"#ee5252"},
{"offset":0.4074,"color":"#e1222a"},{"offset":0.4259,"color":"#e1222a"},{"offset":0.4259,"color":"#ee5252"},{"offset":0.4444,"color":"#ee5252"},
{"offset":0.4444,"color":"#e1222a"},{"offset":0.463,"color":"#e1222a"},{"offset":0.463,"color":"#ee5252"},{"offset":0.4815,"color":"#ee5252"},
{"offset":0.4815,"color":"#e1222a"},{"offset":0.5,"color":"#e1222a"},{"offset":0.5,"color":"#ee5252"},{"offset":0.5185,"color":"#ee5252"},
{"offset":0.5185,"color":"#e1222a"},{"offset":0.537,"color":"#e1222a"},{"offset":0.537,"color":"#ee5252"},{"offset":0.5556,"color":"#ee5252"},
{"offset":0.5556,"color":"#e1222a"},{"offset":0.5741,"color":"#e1222a"},{"offset":0.5741,"color":"#ee5252"},{"offset":0.5926,"color":"#ee5252"},
{"offset":0.5926,"color":"#e1222a"},{"offset":0.6111,"color":"#e1222a"},{"offset":0.6111,"color":"#ee5252"},{"offset":0.6296,"color":"#ee5252"},
{"offset":0.6296,"color":"#e1222a"},{"offset":0.6481,"color":"#e1222a"},{"offset":0.6481,"color":"#ee5252"},{"offset":0.6667,"color":"#ee5252"},
{"offset":0.6667,"color":"#e1222a"},{"offset":0.6852,"color":"#e1222a"},{"offset":0.6852,"color":"#ee5252"},{"offset":0.7037,"color":"#ee5252"},
{"offset":0.7037,"color":"#e1222a"},{"offset":0.7222,"color":"#e1222a"},{"offset":0.7222,"color":"#ee5252"},{"offset":0.7407,"color":"#ee5252"},
{"offset":0.7407,"color":"#e1222a"},{"offset":0.7593,"color":"#e1222a"},{"offset":0.7593,"color":"#ee5252"},{"offset":0.7778,"color":"#ee5252"},
{"offset":0.7778,"color":"#e1222a"},{"offset":0.7963,"color":"#e1222a"},{"offset":0.7963,"color":"#ee5252"},{"offset":0.8148,"color":"#ee5252"},
{"offset":0.8148,"color":"#e1222a"},{"offset":0.8333,"color":"#e1222a"},{"offset":0.8333,"color":"#ee5252"},{"offset":0.8519,"color":"#ee5252"},
{"offset":0.8519,"color":"#e1222a"},{"offset":0.8704,"color":"#e1222a"},{"offset":0.8704,"color":"#ee5252"},{"offset":0.8889,"color":"#ee5252"},
{"offset":0.8889,"color":"#e1222a"},{"offset":0.9074,"color":"#e1222a"},{"offset":0.9074,"color":"#ee5252"},{"offset":0.9259,"color":"#ee5252"},
{"offset":0.9259,"color":"#e1222a"},{"offset":0.9444,"color":"#e1222a"},{"offset":0.9444,"color":"#ee5252"},{"offset":0.963,"color":"#ee5252"},
{"offset":0.963,"color":"#e1222a"},{"offset":0.9815,"color":"#e1222a"},{"offset":0.9815,"color":"#ee5252"},{"offset":1,"color":"#ee5252"}]}},
  "encoding":{
   "x":{"field":"i","type":"quantitative","scale":{"domain":[0.5,5.5],"range":[251,527.7],"nice":false,"zero":false},
    "axis":{"orient":"bottom","offset":-22.7,"values":[1,2,3,4],"labelExpr":"['Electrode 1','Electrode 2','Electrode 3','Electrode 4'][datum.value-1]","labelFont":"Liberation Serif","labelFontSize":9.5,"labelColor":"#595959","labelPadding":6,"ticks":false,"domain":true,"domainColor":"#d9d9d9","domainWidth":1,"title":null}},
   "y":{"field":"v","type":"quantitative","scale":{"domain":[0,20],"range":[633.3,444],"nice":false,"zero":false},
    "axis":{"orient":"left","offset":-251,"values":[0,2,4,6,8,10,12,14,16,18,20],"labelFont":"Liberation Serif","labelFontSize":9.5,"labelColor":"#7f7f7f","labelPadding":8,"ticks":false,"domain":false,"title":"Current (µA)","titleFont":"Liberation Serif","titleFontWeight":"bold","titleFontSize":12,"titleColor":"#404040","titleX":-24,"titleY":538.7,"titleBaseline":"middle"}},
   "y2":{"datum":0}}},
 {"data":{"name":"one"},"mark":{"type":"text","text":"E","font":"Liberation Sans","fontWeight":"bold","fontSize":13,"align":"center","baseline":"middle","color":"#000000"},
  "encoding":{"x":{"datum":-0.35,"type":"quantitative","scale":{"domain":[0.5,5.5],"range":[251,527.7],"nice":false,"zero":false}},
   "y":{"datum":19.26,"type":"quantitative","scale":{"domain":[0,20],"range":[633.3,444],"nice":false,"zero":false}}}}
]}
],
"resolve":{"scale":{"x":"independent","y":"independent","color":"independent"},"axis":{"x":"independent","y":"independent"},"legend":{"color":"independent"}}
}
